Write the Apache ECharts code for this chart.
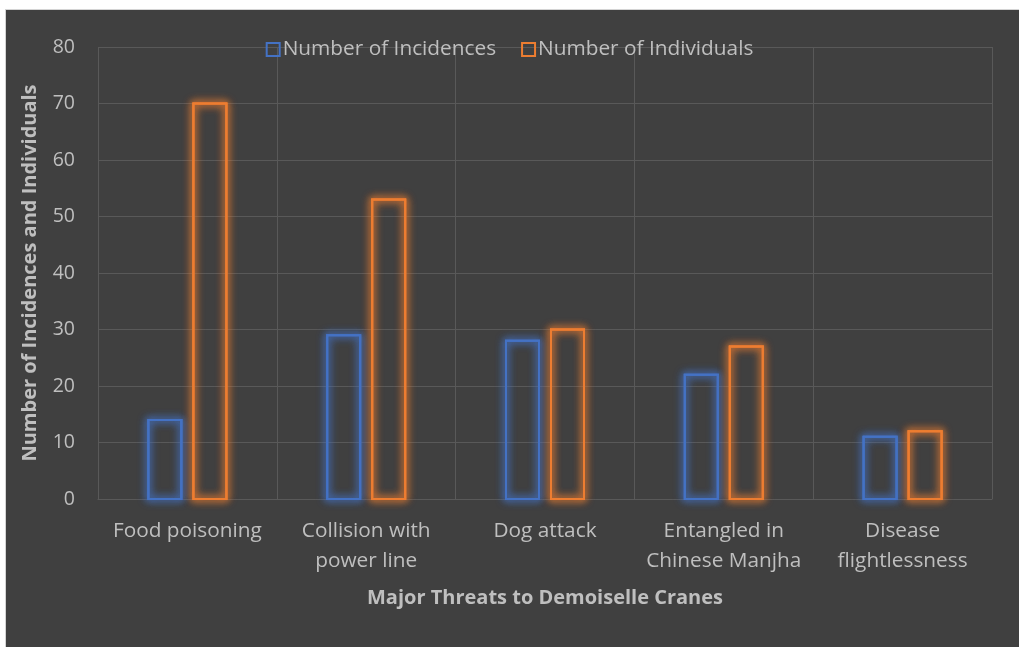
<!DOCTYPE html>
<html>
<head>
<meta charset="utf-8">
<script src="https://cdn.jsdelivr.net/npm/echarts@6/dist/echarts.min.js"></script>
<style>
  html, body { margin: 0; padding: 0; background: #ffffff; }
  #frame {
    position: absolute; left: 5px; top: 9px; width: 1014px; height: 638px;
    background: #404040; border-left: 1px solid #d4d4d4; border-top: 1px solid #d4d4d4;
    box-sizing: border-box;
  }
  #chart { position: absolute; left: 0; top: 0; width: 1019px; height: 647px; }
</style>
</head>
<body>
<div id="frame"></div>
<div id="chart"></div>
<script>
// Major threats to Demoiselle Cranes
const threats = [
  'Food poisoning',
  'Collision with\npower line',
  'Dog attack',
  'Entangled in\nChinese Manjha',
  'Disease\nflightlessness'
];
const incidences = [14, 29, 28, 22, 11];
const individuals = [70, 53, 30, 27, 12];
const seriesNames = ['Number of Incidences', 'Number of Individuals'];
const yTicks = { min: 0, max: 80, interval: 10 };

const BLUE = '#4472c4';
const ORANGE = '#ed7d31';
const TEXT = '#bfbfbf';
const GRID = '#595959';
const FONT = '"Open Sans", Lato, sans-serif';

const BAR_W = 33;     // bar width in px
const PAIR_STEP = 45; // centre-to-centre distance of the two bars in a group

// Hollow bar with a soft glow around its outline (outline stroked a few
// times with a blurred shadow so the halo builds up)
function glowBar(name, values, color, offset) {
  return {
    name: name,
    type: 'custom',
    data: values.map((v, i) => [i, v]),
    encode: { x: 0, y: 1 },
    renderItem: function (params, api) {
      const top = api.coord([api.value(0), api.value(1)]);
      const base = api.coord([api.value(0), 0]);
      const x = top[0] + offset - BAR_W / 2;
      const shape = { x: x, y: top[1], width: BAR_W, height: base[1] - top[1] };
      const layer = (blur) => ({
        type: 'rect', shape: shape, silent: true,
        style: { fill: null, stroke: color, lineWidth: 2, shadowBlur: blur, shadowColor: color }
      });
      return {
        type: 'group',
        children: [layer(10), layer(10), layer(6)]
      };
    }
  };
}

const chart = echarts.init(document.getElementById('chart'), null, { renderer: 'canvas' });
chart.setOption({
  backgroundColor: 'transparent',
  animation: false,
  textStyle: { fontFamily: FONT, color: TEXT },
  legend: {
    top: 34,
    left: 'center',
    itemWidth: 13,
    itemHeight: 13,
    itemGap: 25,
    icon: 'rect',
    textStyle: { color: TEXT, fontSize: 20.8, fontFamily: FONT, padding: [0, 0, 0, -2] },
    data: [
      { name: seriesNames[0], itemStyle: { color: 'rgba(0,0,0,0)', borderColor: BLUE, borderWidth: 2 } },
      { name: seriesNames[1], itemStyle: { color: 'rgba(0,0,0,0)', borderColor: ORANGE, borderWidth: 2 } }
    ]
  },
  grid: { left: 98, right: 27, top: 47, bottom: 148, containLabel: false },
  xAxis: {
    type: 'category',
    data: threats,
    name: 'Major Threats to Demoiselle Cranes',
    nameLocation: 'middle',
    nameGap: 89,
    nameTextStyle: { color: TEXT, fontSize: 20, fontWeight: 'bold', fontFamily: FONT },
    axisLine: { show: true, lineStyle: { color: GRID, width: 1 } },
    axisTick: { show: false },
    splitLine: { show: true, lineStyle: { color: GRID, width: 1 } },
    axisLabel: {
      color: TEXT, fontSize: 20.8, fontFamily: FONT, lineHeight: 30, margin: 17,
      interval: 0, align: 'center'
    }
  },
  yAxis: {
    type: 'value',
    min: yTicks.min,
    max: yTicks.max,
    interval: yTicks.interval,
    name: 'Number of Incidences and Individuals',
    nameLocation: 'middle',
    nameGap: 58,
    nameRotate: 90,
    nameTextStyle: { color: TEXT, fontSize: 20, fontWeight: 'bold', fontFamily: FONT },
    axisLine: { show: false },
    axisTick: { show: false },
    splitLine: { show: true, lineStyle: { color: GRID, width: 1 } },
    axisLabel: { color: TEXT, fontSize: 19.5, fontFamily: FONT, margin: 23 }
  },
  series: [
    glowBar(seriesNames[0], incidences, BLUE, -PAIR_STEP / 2),
    glowBar(seriesNames[1], individuals, ORANGE, PAIR_STEP / 2)
  ]
});
</script>
</body>
</html>
